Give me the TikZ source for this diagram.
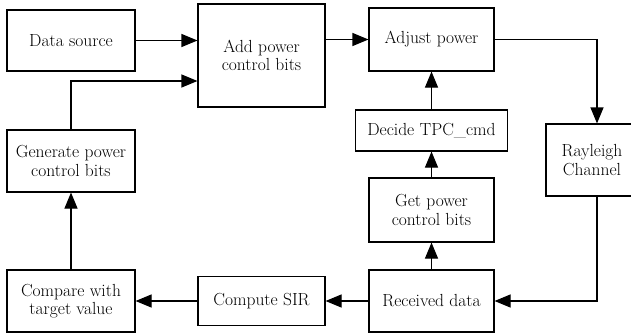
\documentclass[tikz,border=0pt]{standalone}
\usetikzlibrary{arrows.meta,positioning,calc}

\begin{document}
\begin{tikzpicture}[
    x=1pt, y=-1pt,
    block/.style={rectangle, draw=black, line width=1.1pt, fill=white, align=center, inner sep=0pt, font=\fontsize{17.5}{18.5}\selectfont},
    link/.style={line width=1.1pt, -{Triangle[length=16pt,width=13pt]}}
]
    \useasboundingbox (0,0) rectangle (631,335);
    \clip (0,0) rectangle (631,335);

    % transmitter side
    \node[block, minimum width=128pt, minimum height=61pt] (source) at (71,40.5) {Data source};
    \node[block, minimum width=127pt, minimum height=103pt] (addbits) at (261.5,55.5) {Add power\\control bits};
    \node[block, minimum width=125pt, minimum height=63pt] (adjust) at (431.5,39.5) {Adjust power};
    \node[block, minimum width=92pt, minimum height=72pt] (channel) at (592,160) {Rayleigh\\Channel};

    % receiver side
    \node[block, minimum width=125pt, minimum height=62pt] (received) at (431.5,301) {Received data};
    \node[block, minimum width=125pt, minimum height=64pt] (getbits) at (431.5,210) {Get power\\control bits};
    \node[block, minimum width=152pt, minimum height=41pt] (decide) at (431.5,130.5) {Decide TPC\_cmd};
    \node[block, minimum width=127pt, minimum height=49pt] (sir) at (261.5,301) {Compute SIR};
    \node[block, minimum width=128pt, minimum height=62pt] (compare) at (71,301) {Compare with\\target value};
    \node[block, minimum width=128pt, minimum height=62pt] (genbits) at (71,161) {Generate power\\control bits};

    \draw[link] (source.east) -- (source.east -| addbits.west);
    \draw[link] (genbits.north) |- ([yshift=-25.5pt]addbits.west);
    \draw[link] (adjust.west -| addbits.east) -- (adjust.west);
    \draw[link] (adjust.east) -| ([xshift=5pt]channel.north);
    \draw[link] ([xshift=5pt]channel.south) |- (received.east);
    \draw[link] (received.west) -- (sir.east);
    \draw[link] (sir.west) -- (compare.east);
    \draw[link] (compare.north) -- (genbits.south);
    \draw[link] (received.north) -- (getbits.south);
    \draw[link] (getbits.north) -- (decide.south);
    \draw[link] (decide.north) -- (adjust.south);
\end{tikzpicture}
\end{document}
